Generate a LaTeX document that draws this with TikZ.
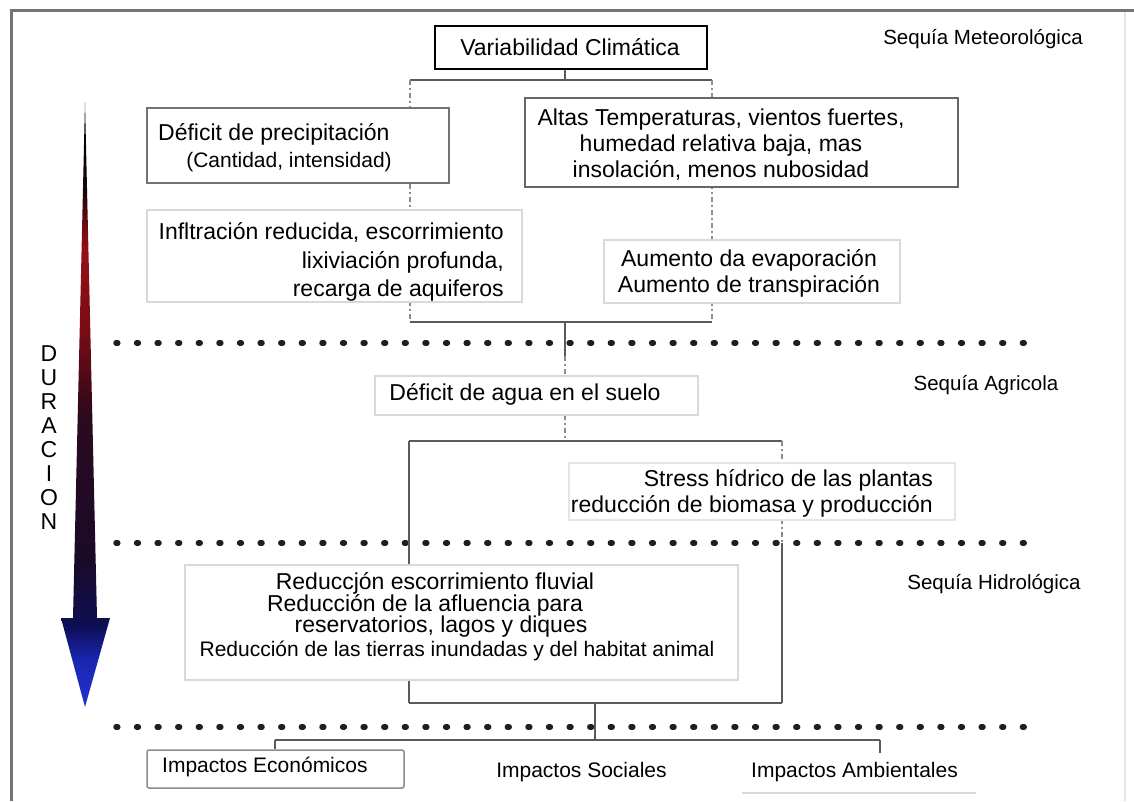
\documentclass[tikz,border=0pt]{standalone}
\usepackage{fontspec}
\setmainfont{Liberation Sans}
\definecolor{linec}{HTML}{5A5A5A}
\definecolor{dlinec}{HTML}{8C8C8C}
\definecolor{sA}{HTML}{2433D0}
\definecolor{sB}{HTML}{1A25B0}
\definecolor{sC}{HTML}{0E0E52}
\definecolor{sD}{HTML}{1A0A28}
\definecolor{sE}{HTML}{2A0A20}
\definecolor{sF}{HTML}{3A0818}
\definecolor{sG}{HTML}{7A0C16}
\definecolor{sH}{HTML}{941018}
\definecolor{sI}{HTML}{600A10}
\definecolor{sJ}{HTML}{1A0505}
\pgfdeclareverticalshading{durshade}{100bp}{color(0bp)=(sA); color(25bp)=(sA); color(28.9bp)=(sB); color(31.8bp)=(sC); color(37.1bp)=(sD); color(48.7bp)=(sE); color(50.4bp)=(sF); color(56.2bp)=(sG); color(62.8bp)=(sH); color(65.5bp)=(sI); color(67.5bp)=(sJ); color(75bp)=(black); color(100bp)=(black)}
\tikzset{
  conn/.style={draw=linec, line width=2.2pt},
  dconn/.style={draw=dlinec, line width=1.6pt, dash pattern=on 5pt off 3pt on 2pt off 3pt},
  dotline/.style={draw=black!88, line width=5.5pt, line cap=round, dash pattern=on 1.8pt off 18.8pt},
  bx/.style={draw=#1, fill=white, line width=1.3pt, inner sep=0pt},
  bx/.default=black!20,
  tbig/.style={inner sep=0pt, font=\fontsize{23}{26}\selectfont},
  tmid/.style={inner sep=0pt, font=\fontsize{21}{24}\selectfont},
  tlab/.style={inner sep=0pt, font=\fontsize{20.5}{24}\selectfont},
  onebig/.style={text height=16.5pt, text depth=4.6pt},
  onemid/.style={text height=15pt, text depth=4.2pt},
  onelab/.style={text height=14.7pt, text depth=4.1pt},
}
\begin{document}
\begin{tikzpicture}[x=1pt,y=-1pt]
\useasboundingbox (0,0) rectangle (1134,801);
\fill[white] (0,0) rectangle (1134,801);
% frame
\draw[black!55, line width=3pt] (9.5,10) -- (1134,10);
\draw[black!55, line width=3pt] (11,8.5) -- (11,801);
\draw[black!10, line width=1.2pt] (1125,12) -- (1125,801);
% duration arrow
\shade[shading=durshade] (85,102) -- (97,618) -- (110,618) -- (85,707) -- (61,618) -- (73,618) -- cycle;
\node[tbig, align=center, font=\fontsize{23}{24}\selectfont] (dur) at (49,438) {D\\U\\R\\A\\C\\I\\O\\N};
% dotted separators
\draw[dotline] (116,343) -- (1026,343);
\draw[dotline] (116,543) -- (1026,543);
\draw[dotline] (116,727) -- (1026,727);
% junction coordinates
\coordinate (jt) at (565,80);
\coordinate (jtl) at (410,80);
\coordinate (jtr) at (712,80);
\coordinate (jb) at (565,322);
\coordinate (jbl) at (410,322);
\coordinate (jbr) at (712,322);
\coordinate (jb2) at (565,356);
\coordinate (jc) at (565,441);
\coordinate (jcl) at (409,441);
\coordinate (jcr) at (782,441);
\coordinate (jcm) at (782,543);
\coordinate (jdl) at (409,703);
\coordinate (jdr) at (782,703);
\coordinate (jd) at (595,703);
\coordinate (je) at (595,740);
\coordinate (jel) at (275,740);
\coordinate (jer) at (880,740);
\coordinate (amb) at (880,753);
% boxes
\node[bx=black, line width=1.6pt, minimum width=272, minimum height=43] (var) at (571,47.5) {};
% connectors (behind remaining boxes)
\draw[conn] (jt |- var.south) -- (jt);
\draw[conn] (jtl) -- (jtr);
\draw[dconn] (jtl) -- (jbl);
\draw[dconn] (jtr) -- (jbr);
\draw[conn] (jbl) -- (jbr);
\draw[conn] (jb) -- (jb2);
\coordinate (jsu) at (565,376);
\draw[dconn] (jb2) -- (jsu);
\coordinate (jsd) at (565,415);
\draw[dconn] (jsd) -- (jc);
\draw[conn] (jcl) -- (jcr);
\draw[conn] (jcl) -- (jdl);
\draw[dconn] (jcr) -- (jcm);
\draw[conn] (jcm) -- (jdr);
\draw[conn] (jdl) -- (jdr);
\draw[conn] (jd) -- (je);
\draw[conn] (jel) -- (jer);
\draw[conn] (jer) -- (amb);
\node[bx=black!55, line width=1.8pt, minimum width=302, minimum height=75] (defp) at (298,145.5) {};
\node[bx=black!60, line width=1.6pt, minimum width=433, minimum height=89] (altas) at (741.5,142.5) {};
\node[bx=black!15, minimum width=375, minimum height=92] (infl) at (334.5,256) {};
\node[bx=black!15, minimum width=296, minimum height=63] (aum) at (752,271.5) {};
\node[bx=black!15, minimum width=323, minimum height=39] (suelo) at (536.5,395.5) {};
\node[bx=black!10, minimum width=386, minimum height=57] (stress) at (762,491.5) {};
\node[bx=black!15, minimum width=553, minimum height=115] (redu) at (461.5,622.5) {};
\node[bx=black!45, line width=1.5pt, rounded corners=2pt, minimum width=257, minimum height=38] (econ) at (275.5,769) {};
\draw[conn] (jel) -- (econ.north -| jel);
\draw[black!15, line width=1.2pt] (742,793) -- (976,793);
% texts
\node[tbig, onebig] (tvar) at (570,50) {Variabilidad Climática};
\node[tlab, onelab] (smet) at (983,39) {Sequía Meteorológica};
\node[tbig, onebig, anchor=west] (tdefp1) at (158,135) {Déficit de precipitación};
\node[tmid, onemid] (tdefp2) at (289,162) {(Cantidad, intensidad)};
\node[tbig, align=center] (taltas) at (721,145) {Altas Temperaturas, vientos fuertes,\\humedad relativa baja, mas\\insolación, menos nubosidad};
\node[tbig, align=right, anchor=east, font=\fontsize{23}{28.5}\selectfont] (tinfl) at (504,262) {Infltración reducida, escorrimiento\\lixiviación profunda,\\recarga de aquiferos};
\node[tbig, align=center] (taum) at (749,273) {Aumento da evaporación\\Aumento de transpiración};
\node[tbig, onebig] (tsuelo) at (525,395) {Déficit de agua en el suelo};
\node[tlab, onelab] (sagr) at (986,385) {Sequía Agricola};
\node[tbig, align=right, anchor=east] (tstress) at (933,493) {Stress hídrico de las plantas\\reducción de biomasa y producción};
\node[tlab, onelab] (shid) at (994,584) {Sequía Hidrológica};
\node[tbig, onebig] (tred1) at (435,584) {Reduccjón escorrimiento fluvial};
\node[tbig, onebig] (tred2) at (425,605.5) {Reducción de la afluencia para};
\node[tbig, onebig] (tred3) at (441,627) {reservatorios, lagos y diques};
\node[tmid, onemid] (tred4) at (457,651) {Reducción de las tierras inundadas y del habitat animal};
\node[tmid, onemid, anchor=west] (tecon) at (162,767) {Impactos Económicos};
\node[tmid, onemid] (tsoc) at (581.5,772) {Impactos Sociales};
\node[tmid, onemid] (tamb) at (854.5,772) {Impactos Ambientales};
\end{tikzpicture}
\end{document}
